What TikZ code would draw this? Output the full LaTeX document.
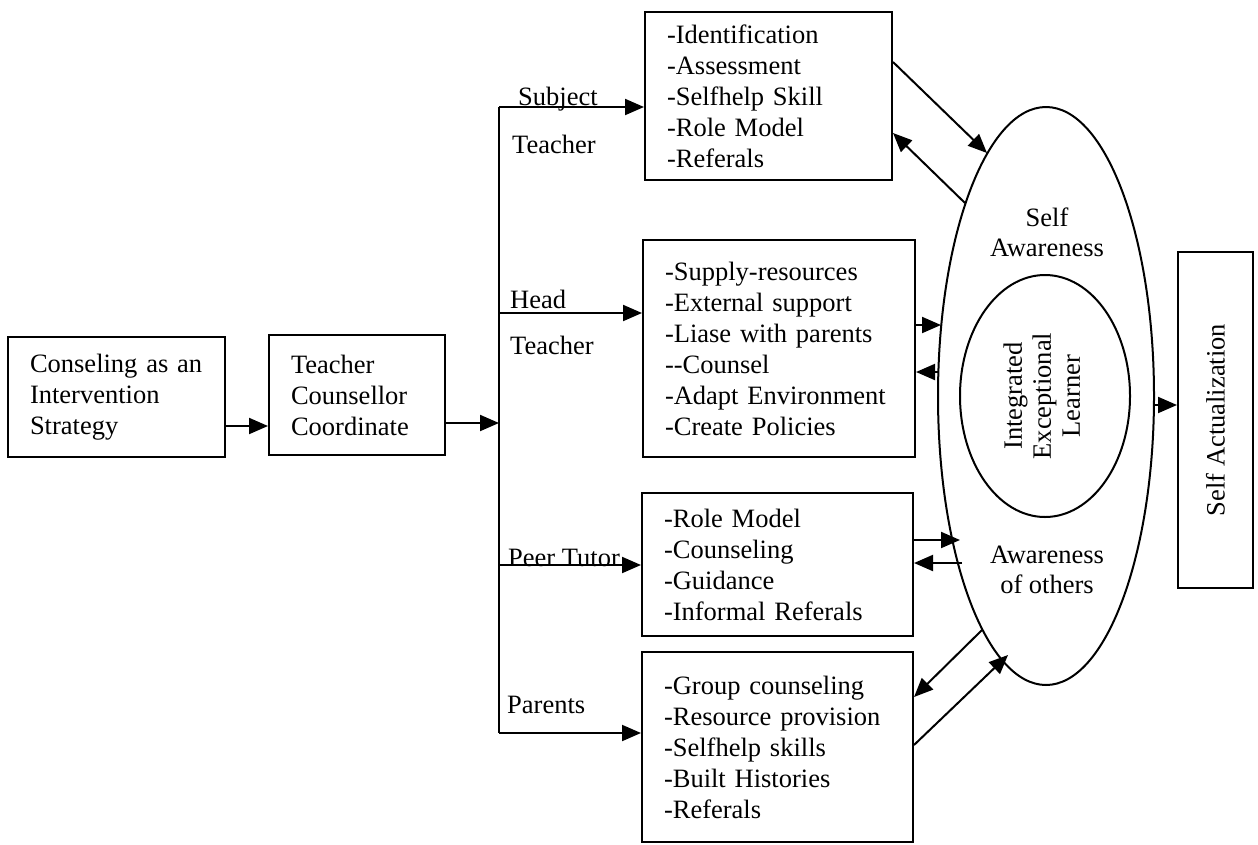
\documentclass[tikz,border=0pt]{standalone}
\usepackage{fontspec}
\setmainfont{Liberation Serif}
\usetikzlibrary{arrows.meta,shapes.geometric}
\begin{document}
\begin{tikzpicture}[x=1pt,y=-1pt,
  every node/.style={font=\fontsize{26.5}{31}\selectfont, inner sep=0pt},
  box/.style={draw, line width=2pt, rectangle, align=left, inner xsep=22pt, anchor=center},
  arr/.style={line width=2pt, -{Triangle[length=19pt,width=16pt]}},
  ln/.style={line width=2pt},
  lbl/.style={anchor=base west}]
\useasboundingbox (0,0) rectangle (1258,844);

% boxes
\node[box, text width=173pt, minimum width=217pt, minimum height=120pt] (c1) at (116.5,397) {Conseling as an\\Intervention\\Strategy};
\node[box, text width=132pt, minimum width=176pt, minimum height=120pt] (c2) at (357,395) {Teacher\\Counsellor\\Coordinate};
\node[box, text width=203pt, minimum width=247pt, minimum height=168pt] (subj) at (768.5,96) {-Identification\\-Assessment\\-Selfhelp Skill\\-Role Model\\-Referals};
\node[box, text width=228pt, minimum width=272pt, minimum height=217pt] (head) at (779,348.5) {-Supply-resources\\-External support\\-Liase with parents\\-{}-Counsel\\-Adapt Environment\\-Create Policies};
\node[box, text width=227pt, minimum width=271pt, minimum height=143pt] (peer) at (777.5,564.5) {-Role Model\\-Counseling\\-Guidance\\-Informal Referals};
\node[box, text width=227pt, minimum width=271pt, minimum height=190pt] (par) at (777.5,747) {-Group counseling\\-Resource provision\\-Selfhelp skills\\-Built Histories\\-Referals};
\node[draw, line width=2pt, minimum width=75pt, minimum height=336pt] (sa) at (1215.5,420) {\rotatebox{90}{Self Actualization}};

% ellipses
\node[draw, ellipse, line width=2pt, minimum width=216pt, minimum height=578pt] (big) at (1046,396) {};
\node[draw, ellipse, line width=2pt, minimum width=170pt, minimum height=242pt] (inner) at (1045,396) {\rotatebox{90}{\fontsize{26.5}{29}\selectfont\begin{tabular}{@{}c@{}}Integrated\\Exceptional\\Learner\end{tabular}}};
\node[align=center, font=\fontsize{26.5}{30}\selectfont] (selfaw) at (1047,232) {Self\\Awareness};
\node[align=center, font=\fontsize{26.5}{30}\selectfont] (othaw) at (1047,570) {Awareness\\of others};

% labels
\node[lbl] (lsub) at (518,105) {Subject};
\node[lbl] (lst) at (512,153) {Teacher};
\node[lbl] (lhead) at (510,308) {Head};
\node[lbl] (lht) at (510,354) {Teacher};
\node[lbl] (lpeer) at (508,566) {Peer Tutor};
\node[lbl] (lpar) at (507,713) {Parents};

% trunk
\coordinate (tS) at (499,107);
\coordinate (tH) at (499,313);
\coordinate (tM) at (499,423);
\coordinate (tP) at (499,565);
\coordinate (tR) at (499,733);
\draw[ln] (tS) -- (tR);
\draw[arr] (c1.east |- 0,426) -- (c2.west |- 0,426);
\draw[arr] (c2.east |- tM) -- (tM);
\draw[arr] (tS) -- (subj.west |- tS);
\draw[arr] (tH) -- (head.west |- tH);
\draw[arr] (tP) -- (peer.west |- tP);
\draw[arr] (tR) -- (par.west |- tR);

% ellipse connectors
\coordinate (eS1) at (987,153);
\coordinate (eS2) at (965,203);
\coordinate (eH1) at (941,325);
\coordinate (eH2) at (938,372);
\coordinate (eP1) at (960,540);
\coordinate (eP2) at (962,563);
\coordinate (eR1) at (982,630);
\coordinate (eR2) at (1008,655);
\draw[arr] (subj.east |- 0,62) -- (eS1);
\draw[arr] (eS2) -- (subj.east |- 0,133);
\draw[arr] (head.east |- 0,325) -- (eH1);
\draw[arr] (eH2) -- (head.east |- 0,372);
\draw[arr] (peer.east |- 0,540) -- (eP1);
\draw[arr] (eP2) -- (peer.east |- 0,563);
\draw[arr] (eR1) -- (par.east |- 0,697);
\draw[arr] (par.east |- 0,745) -- (eR2);
\draw[arr] (big.east |- 0,405) -- (sa.west |- 0,405);
\end{tikzpicture}
\end{document}
